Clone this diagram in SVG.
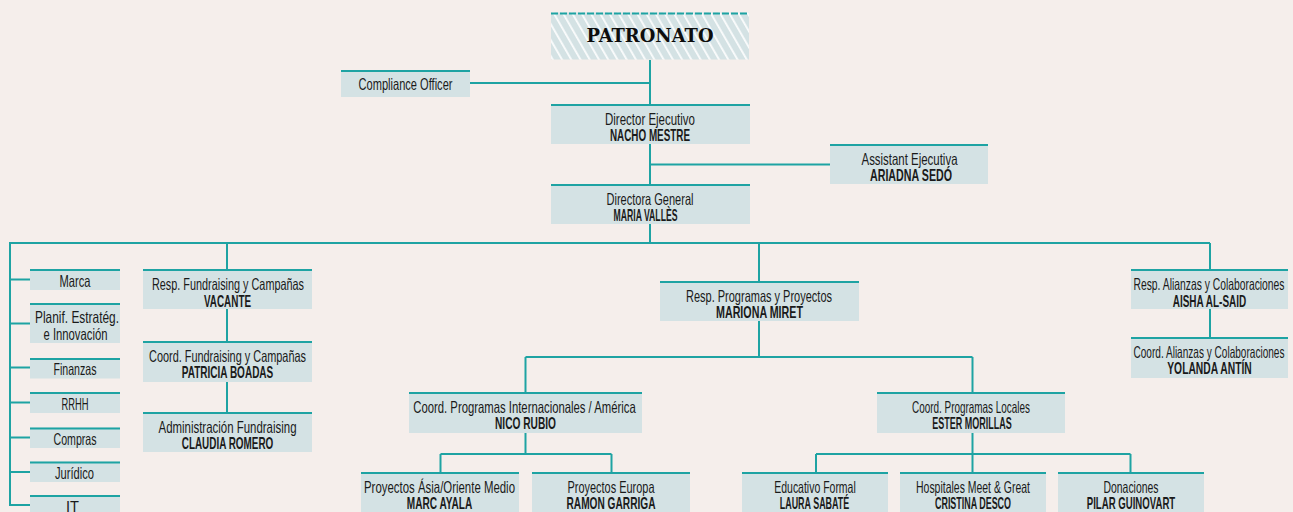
<svg xmlns="http://www.w3.org/2000/svg" width="1293" height="512" viewBox="0 0 1293 512">
<style>
.bg{fill:#f5eeeb}
.box{fill:#d4e2e4}
.top{fill:#1ea3a3}
.conn{stroke:#1ea3a3;stroke-width:2;fill:none}
text{font-family:"Liberation Sans Narrow","Liberation Sans",Arial,sans-serif;font-size:16.5px;fill:#1a1a1a;text-anchor:middle}
.nm{font-weight:bold}
.pat{font-family:"DejaVu Serif","Liberation Serif",serif;font-weight:900;font-size:19px;fill:#0d0d0d}
</style>
<defs>
<pattern id="hatch" width="8" height="8" patternUnits="userSpaceOnUse" patternTransform="rotate(-30)">
<rect width="8" height="8" fill="#d4e2e4"/>
<rect x="0" y="0" width="1.8" height="8" fill="#ffffff" opacity="0.9"/>
</pattern>
</defs>
<rect class="bg" x="0" y="0" width="1293" height="512"/>

<g id="connectors">
<path class="conn" d="M650 60V104M470 83H650M650 144V184M650 164.5H830M650 224V243"/>
<path class="conn" d="M10 243H1210M10 242V505H30"/>
<path class="conn" d="M10 279.5H30M10 323.5H30M10 367.5H30M10 402.5H30M10 437.5H30M10 472H30"/>
<path class="conn" d="M227 243V269M227 309V341M227 382V412"/>
<path class="conn" d="M759 243V281M759 321V357M525.5 357H972.5M525.5 357V392M972.5 357V392"/>
<path class="conn" d="M525.5 433V454M440.5 454H611.5M440.5 454V472M611.5 454V472"/>
<path class="conn" d="M972.5 433V472M816 454H1130.5M816 454V472M1130.5 454V472"/>
<path class="conn" d="M1210 243V269M1210 309V337"/>
</g>

<g id="patronato">
<rect x="551" y="12.5" width="198" height="47" fill="url(#hatch)"/>
<line x1="551" y1="13.5" x2="749" y2="13.5" stroke="#1ea3a3" stroke-width="2" stroke-dasharray="7 2"/>
<text class="pat" x="650" y="42" textLength="127" lengthAdjust="spacingAndGlyphs">PATRONATO</text>
</g>

<g id="compliance">
<rect class="box" x="341" y="70" width="129" height="27"/><rect class="top" x="341" y="70" width="129" height="2"/>
<text x="405.5" y="90" textLength="94" lengthAdjust="spacingAndGlyphs">Compliance Officer</text>
</g>

<g id="director-ejecutivo">
<rect class="box" x="551" y="104" width="199" height="40"/><rect class="top" x="551" y="104" width="199" height="2"/>
<text x="650" y="124.5" textLength="90" lengthAdjust="spacingAndGlyphs">Director Ejecutivo</text>
<text class="nm" x="650" y="141" textLength="80" lengthAdjust="spacingAndGlyphs">NACHO MESTRE</text>
</g>

<g id="assistant">
<rect class="box" x="830" y="144" width="158" height="40"/><rect class="top" x="830" y="144" width="158" height="2"/>
<text x="909.5" y="164.5" textLength="96" lengthAdjust="spacingAndGlyphs">Assistant Ejecutiva</text>
<text class="nm" x="911" y="181" textLength="82" lengthAdjust="spacingAndGlyphs">ARIADNA SEDÓ</text>
</g>

<g id="directora-general">
<rect class="box" x="551" y="184" width="199" height="40"/><rect class="top" x="551" y="184" width="199" height="2"/>
<text x="650" y="204.5" textLength="87" lengthAdjust="spacingAndGlyphs">Directora General</text>
<text class="nm" x="645.5" y="221" textLength="64" lengthAdjust="spacingAndGlyphs">MARIA VALLÈS</text>
</g>

<g id="marca">
<rect class="box" x="30" y="269" width="90" height="21"/><rect class="top" x="30" y="269" width="90" height="2"/>
<text x="75" y="286.5" textLength="31" lengthAdjust="spacingAndGlyphs">Marca</text>
</g>
<g id="planif">
<rect class="box" x="30" y="303" width="90" height="40"/><rect class="top" x="30" y="303" width="90" height="2"/>
<text x="77" y="323" textLength="84" lengthAdjust="spacingAndGlyphs">Planif. Estratég.</text>
<text x="75.5" y="340" textLength="64" lengthAdjust="spacingAndGlyphs">e Innovación</text>
</g>
<g id="finanzas">
<rect class="box" x="30" y="358" width="90" height="20.5"/><rect class="top" x="30" y="358" width="90" height="2"/>
<text x="75" y="375" textLength="43" lengthAdjust="spacingAndGlyphs">Finanzas</text>
</g>
<g id="rrhh">
<rect class="box" x="30" y="392" width="90" height="21"/><rect class="top" x="30" y="392" width="90" height="2"/>
<text x="75" y="409.5" textLength="27" lengthAdjust="spacingAndGlyphs">RRHH</text>
</g>
<g id="compras">
<rect class="box" x="30" y="427.5" width="90" height="20.5"/><rect class="top" x="30" y="427.5" width="90" height="2"/>
<text x="75" y="444.5" textLength="43" lengthAdjust="spacingAndGlyphs">Compras</text>
</g>
<g id="juridico">
<rect class="box" x="30" y="461.5" width="90" height="20.5"/><rect class="top" x="30" y="461.5" width="90" height="2"/>
<text x="74.5" y="478.5" textLength="39" lengthAdjust="spacingAndGlyphs">Jurídico</text>
</g>
<g id="it">
<rect class="box" x="30" y="495" width="90" height="20"/><rect class="top" x="30" y="495" width="90" height="2"/>
<text x="72.5" y="512.5" textLength="13" lengthAdjust="spacingAndGlyphs">IT</text>
</g>

<g id="resp-fundraising">
<rect class="box" x="143" y="269" width="169" height="40"/><rect class="top" x="143" y="269" width="169" height="2"/>
<text x="228" y="290" textLength="152" lengthAdjust="spacingAndGlyphs">Resp. Fundraising y Campañas</text>
<text class="nm" x="227.5" y="306.5" textLength="47" lengthAdjust="spacingAndGlyphs">VACANTE</text>
</g>
<g id="coord-fundraising">
<rect class="box" x="143" y="341" width="169" height="41"/><rect class="top" x="143" y="341" width="169" height="2"/>
<text x="227.5" y="361.5" textLength="157" lengthAdjust="spacingAndGlyphs">Coord. Fundraising y Campañas</text>
<text class="nm" x="227.5" y="378" textLength="91.5" lengthAdjust="spacingAndGlyphs">PATRICIA BOADAS</text>
</g>
<g id="admin-fundraising">
<rect class="box" x="143" y="412" width="169" height="40"/><rect class="top" x="143" y="412" width="169" height="2"/>
<text x="227.5" y="432.5" textLength="138" lengthAdjust="spacingAndGlyphs">Administración Fundraising</text>
<text class="nm" x="227.5" y="449" textLength="91.5" lengthAdjust="spacingAndGlyphs">CLAUDIA ROMERO</text>
</g>

<g id="resp-programas">
<rect class="box" x="660" y="281" width="199" height="40"/><rect class="top" x="660" y="281" width="199" height="2"/>
<text x="759" y="301.5" textLength="146" lengthAdjust="spacingAndGlyphs">Resp. Programas y Proyectos</text>
<text class="nm" x="759.5" y="318" textLength="87" lengthAdjust="spacingAndGlyphs">MARIONA MIRET</text>
</g>
<g id="coord-internacionales">
<rect class="box" x="409" y="392" width="233" height="41"/><rect class="top" x="409" y="392" width="233" height="2"/>
<text x="524.5" y="412.5" textLength="222.5" lengthAdjust="spacingAndGlyphs">Coord. Programas Internacionales / América</text>
<text class="nm" x="525.5" y="429" textLength="61" lengthAdjust="spacingAndGlyphs">NICO RUBIO</text>
</g>
<g id="coord-locales">
<rect class="box" x="877" y="392" width="188" height="41"/><rect class="top" x="877" y="392" width="188" height="2"/>
<text x="971" y="412.5" textLength="118" lengthAdjust="spacingAndGlyphs">Coord. Programas Locales</text>
<text class="nm" x="972" y="429" textLength="79.5" lengthAdjust="spacingAndGlyphs">ESTER MORILLAS</text>
</g>

<g id="proyectos-asia">
<rect class="box" x="361" y="472" width="158" height="45"/><rect class="top" x="361" y="472" width="158" height="2"/>
<text x="439.5" y="492.5" textLength="151" lengthAdjust="spacingAndGlyphs">Proyectos Ásia/Oriente Medio</text>
<text class="nm" x="439.5" y="509" textLength="65.5" lengthAdjust="spacingAndGlyphs">MARC AYALA</text>
</g>
<g id="proyectos-europa">
<rect class="box" x="532" y="472" width="158" height="45"/><rect class="top" x="532" y="472" width="158" height="2"/>
<text x="611" y="492.5" textLength="87" lengthAdjust="spacingAndGlyphs">Proyectos Europa</text>
<text class="nm" x="611" y="509" textLength="89" lengthAdjust="spacingAndGlyphs">RAMON GARRIGA</text>
</g>
<g id="educativo-formal">
<rect class="box" x="742" y="472" width="146" height="45"/><rect class="top" x="742" y="472" width="146" height="2"/>
<text x="815" y="492.5" textLength="81.5" lengthAdjust="spacingAndGlyphs">Educativo Formal</text>
<text class="nm" x="814.5" y="509" textLength="69.5" lengthAdjust="spacingAndGlyphs">LAURA SABATÉ</text>
</g>
<g id="hospitales">
<rect class="box" x="900" y="472" width="146" height="45"/><rect class="top" x="900" y="472" width="146" height="2"/>
<text x="973" y="492.5" textLength="114" lengthAdjust="spacingAndGlyphs">Hospitales Meet &amp; Great</text>
<text class="nm" x="973" y="509" textLength="76" lengthAdjust="spacingAndGlyphs">CRISTINA DESCO</text>
</g>
<g id="donaciones">
<rect class="box" x="1058" y="472" width="146" height="45"/><rect class="top" x="1058" y="472" width="146" height="2"/>
<text x="1131" y="492.5" textLength="55" lengthAdjust="spacingAndGlyphs">Donaciones</text>
<text class="nm" x="1131" y="509" textLength="88.5" lengthAdjust="spacingAndGlyphs">PILAR GUINOVART</text>
</g>

<g id="resp-alianzas">
<rect class="box" x="1131" y="269" width="157" height="40"/><rect class="top" x="1131" y="269" width="157" height="2"/>
<text x="1209" y="290" textLength="151" lengthAdjust="spacingAndGlyphs">Resp. Alianzas y Colaboraciones</text>
<text class="nm" x="1209.5" y="306.5" textLength="73.5" lengthAdjust="spacingAndGlyphs">AISHA AL-SAID</text>
</g>
<g id="coord-alianzas">
<rect class="box" x="1131" y="337" width="157" height="41"/><rect class="top" x="1131" y="337" width="157" height="2"/>
<text x="1209" y="357.5" textLength="151" lengthAdjust="spacingAndGlyphs">Coord. Alianzas y Colaboraciones</text>
<text class="nm" x="1209.5" y="374" textLength="84.5" lengthAdjust="spacingAndGlyphs">YOLANDA ANTÍN</text>
</g>
</svg>
